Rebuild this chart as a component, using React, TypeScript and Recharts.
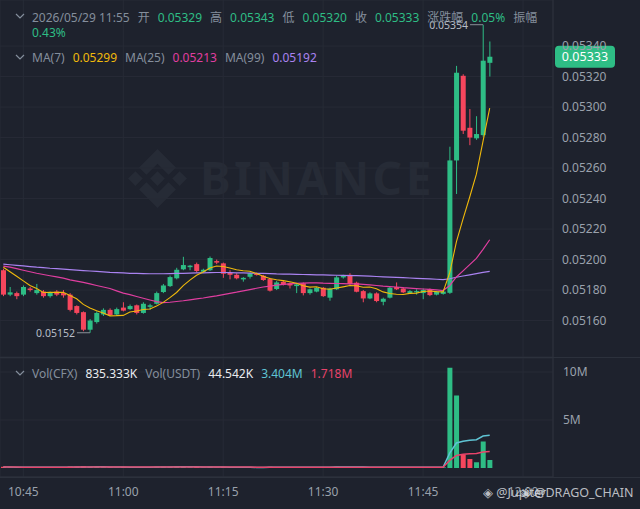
import React from 'react';
import {
  ComposedChart,
  Bar,
  Line,
  Cell,
  XAxis,
  YAxis,
  CartesianGrid,
  ReferenceDot,
  ReferenceLine,
} from 'recharts';

document.body.style.margin = '0';
document.body.style.background = '#1e222d';

const BG = '#1e222d';
const GRID = '#272b36';
const EDGE = '#2c313c';
const UP = '#2ebd85';
const DOWN = '#f6465d';
const AXIS_TEXT = '#9aa1ac';
const LABEL = '#848e9c';
const MA7_C = '#f0b90b';
const MA25_C = '#e03ea0';
const MA99_C = '#a982f0';
const VMA1_C = '#5fc4d4';
const VMA2_C = '#e8436a';
const MARK = '#262b36';
const FONT = "'Noto Sans', 'Noto Sans CJK SC', sans-serif";

// 1-minute candles, first one at 10:42, last one at 11:55
const START = '10:42';
const SLOTS = 83; // axis runs on to 12:04

// prices in units of 0.00001 USDT
const opens = [
  5193, 5177, 5178, 5177, 5181, 5178, 5179, 5176, 5179, 5178,
  5177, 5169.5, 5165.5, 5154, 5159, 5164, 5167, 5164, 5168.5, 5167.5,
  5170, 5165, 5169, 5171, 5178.7, 5182.6, 5187.7, 5193.6, 5195, 5197,
  5192, 5193, 5199, 5197.5, 5191.3, 5190, 5187, 5188.7, 5190.5, 5189.4,
  5187.2, 5180.7, 5185.4, 5184.4, 5182.6, 5184.4, 5178, 5179, 5181.5, 5175,
  5180.5, 5188.3, 5190, 5184.8, 5179.3, 5174.5, 5177.8, 5172.3, 5175, 5182,
  5181, 5178, 5178.5, 5178, 5180.5, 5177, 5177.5, 5178.2, 5265, 5320.5,
  5286.4, 5279.5, 5281.6, 5329,
];
const highs = [
  5194, 5182, 5179, 5183, 5182, 5184, 5180, 5179, 5180, 5180,
  5178, 5170, 5166, 5161, 5166, 5168, 5168, 5168.5, 5172, 5170.5,
  5170.5, 5172, 5171, 5179, 5184, 5189.5, 5194.6, 5201.8, 5196.5, 5198,
  5194, 5202, 5200, 5198, 5193, 5191, 5188.5, 5191.5, 5191.5, 5190,
  5188, 5186, 5186, 5185, 5184.5, 5185, 5181, 5182, 5182, 5181.5,
  5189.5, 5190, 5191, 5185.5, 5180, 5178.5, 5178.5, 5175, 5182, 5185,
  5182, 5180, 5180.5, 5181, 5181, 5179.5, 5179.5, 5274, 5327, 5321.5,
  5298.7, 5294, 5354, 5343,
];
const lows = [
  5176, 5176, 5174, 5176, 5179, 5177, 5175, 5175, 5176, 5175,
  5166, 5164, 5153, 5152, 5158, 5163, 5163, 5163, 5166, 5167,
  5164, 5164.5, 5167, 5170.5, 5178, 5182, 5187, 5193, 5193, 5191.5,
  5191.5, 5192.5, 5197, 5188, 5187, 5187, 5185.5, 5187.5, 5189.5, 5186,
  5179, 5180, 5183, 5181, 5178, 5176.5, 5177, 5178.5, 5175.5, 5173,
  5180, 5187.5, 5183.5, 5178.5, 5172, 5174, 5172, 5170, 5174.5, 5180,
  5178, 5177.5, 5177, 5174, 5176, 5176.5, 5177, 5177.5, 5243, 5282.3,
  5275, 5278.5, 5280.5, 5320,
];
const closes = [
  5177, 5178.5, 5176, 5182, 5180, 5180, 5176, 5178.5, 5177, 5176.5,
  5167, 5165, 5154, 5160, 5165, 5167, 5163.6, 5167.5, 5166.5, 5169.5,
  5165, 5171, 5170, 5178, 5183, 5188.5, 5193.3, 5196.4, 5196, 5192.5,
  5193.3, 5201, 5198, 5190.7, 5190, 5187.7, 5188, 5191, 5190, 5186.6,
  5179.6, 5185, 5183.5, 5183, 5183.7, 5178, 5180.5, 5181.5, 5176, 5181,
  5188.3, 5189.6, 5184, 5178.9, 5174.5, 5177.8, 5172.8, 5174.3, 5181.5, 5180.5,
  5178.5, 5179.3, 5179.3, 5180, 5176.7, 5179, 5179, 5265, 5322.5, 5284.5,
  5280, 5282.3, 5330.4, 5333,
];
const ma7 = [
  5195, 5192, 5189, 5186, 5183, 5181, 5178.4, 5178.6, 5178.5, 5178.6,
  5176.4, 5174.3, 5170.6, 5168.3, 5166.4, 5164.9, 5163.1, 5163.2, 5163.4, 5165.6,
  5166.3, 5167.2, 5167.6, 5169.6, 5171.9, 5175, 5178.4, 5182.9, 5186.5, 5189.7,
  5191.9, 5194.4, 5195.8, 5195.4, 5194.5, 5193.3, 5192.7, 5192.3, 5190.8, 5189.1,
  5187.6, 5186.8, 5186.2, 5185.5, 5184.5, 5182.8, 5181.9, 5182.2, 5180.9, 5180.5,
  5181.3, 5182.1, 5183, 5182.8, 5181.8, 5182, 5180.8, 5178.8, 5177.7, 5177.2,
  5177.1, 5177.8, 5178, 5179.1, 5179.4, 5179, 5178.8, 5191.2, 5211.6, 5226.7,
  5241, 5256, 5277.7, 5299.3,
];
const ma25 = [
  5195.7, 5195, 5194, 5193, 5192, 5191, 5190.2, 5189.4, 5188.6, 5187.8,
  5186.7, 5185.8, 5185, 5184, 5183, 5182, 5181, 5179.5, 5178, 5177,
  5175.8, 5174.6, 5173.5, 5172.4, 5171.8, 5172, 5172.5, 5173, 5173.6, 5174.2,
  5174.8, 5175.5, 5176.2, 5177, 5177.8, 5178.6, 5179.5, 5180.3, 5181.2, 5182,
  5182.6, 5183.2, 5183.7, 5184.1, 5184.4, 5184.6, 5184.7, 5184.7, 5184.5, 5184.4,
  5184.3, 5184.2, 5184.1, 5184, 5183.7, 5183.4, 5183, 5182.6, 5182.3, 5182,
  5181.6, 5181.3, 5181, 5180.7, 5180.4, 5180.1, 5179.7, 5183, 5188.6, 5192.6,
  5196.7, 5200.8, 5206.7, 5213,
];
const ma99 = [
  5197, 5196.6, 5196.2, 5195.8, 5195.4, 5195, 5194.7, 5194.3, 5194, 5193.7,
  5193.4, 5193.1, 5192.8, 5192.5, 5192.2, 5191.9, 5191.6, 5191.4, 5191.2, 5191,
  5190.9, 5190.8, 5190.7, 5190.7, 5190.7, 5190.8, 5190.9, 5191, 5191.1, 5191.2,
  5191.3, 5191.4, 5191.5, 5191.5, 5191.4, 5191.3, 5191.2, 5191.1, 5191, 5190.9,
  5190.8, 5190.6, 5190.5, 5190.4, 5190.3, 5190.2, 5190.1, 5190, 5189.9, 5189.8,
  5189.7, 5189.6, 5189.5, 5189.4, 5189.3, 5189.1, 5188.9, 5188.7, 5188.5, 5188.3,
  5188.1, 5187.9, 5187.7, 5187.5, 5187.3, 5187.1, 5186.9, 5187.4, 5188.4, 5189.2,
  5190, 5190.8, 5191.6, 5192.3,
];

// volume in millions of CFX
const volumes = [
  0.12, 0.08, 0.06, 0.09, 0.05, 0.07, 0.08, 0.06, 0.05, 0.07,
  0.15, 0.12, 0.2, 0.14, 0.11, 0.08, 0.07, 0.06, 0.09, 0.05,
  0.08, 0.1, 0.06, 0.13, 0.12, 0.14, 0.16, 0.15, 0.07, 0.1,
  0.06, 0.13, 0.05, 0.11, 0.06, 0.07, 0.05, 0.06, 0.04, 0.07,
  0.12, 0.08, 0.05, 0.06, 0.07, 0.1, 0.06, 0.07, 0.09, 0.1,
  0.12, 0.06, 0.09, 0.1, 0.08, 0.06, 0.08, 0.07, 0.09, 0.06,
  0.07, 0.05, 0.06, 0.07, 0.08, 0.06, 0.07, 10.45, 7.56, 1.4,
  0.94, 0.6, 2.75, 0.835333,
];
const volMa1 = [
  0.09, 0.09, 0.08, 0.08, 0.08, 0.07, 0.07, 0.07, 0.07, 0.07,
  0.08, 0.09, 0.1, 0.11, 0.12, 0.12, 0.11, 0.1, 0.09, 0.08,
  0.08, 0.08, 0.08, 0.09, 0.09, 0.1, 0.12, 0.13, 0.13, 0.12,
  0.11, 0.1, 0.09, 0.09, 0.08, 0.08, 0.07, 0.07, 0.06, 0.06,
  0.07, 0.07, 0.07, 0.07, 0.07, 0.08, 0.07, 0.07, 0.08, 0.08,
  0.09, 0.09, 0.09, 0.09, 0.09, 0.08, 0.08, 0.08, 0.08, 0.08,
  0.07, 0.07, 0.07, 0.07, 0.07, 0.07, 0.07, 1.55, 2.6, 2.78,
  2.88, 2.95, 3.33, 3.404,
];
const volMa2 = [
  0.09, 0.09, 0.09, 0.08, 0.08, 0.08, 0.08, 0.08, 0.08, 0.08,
  0.08, 0.09, 0.09, 0.1, 0.1, 0.1, 0.1, 0.1, 0.1, 0.1,
  0.1, 0.09, 0.09, 0.09, 0.09, 0.1, 0.1, 0.11, 0.11, 0.11,
  0.11, 0.11, 0.1, 0.1, 0.1, 0.1, 0.09, 0.09, 0.08, 0.08,
  0.08, 0.07, 0.07, 0.07, 0.07, 0.07, 0.07, 0.07, 0.08, 0.08,
  0.08, 0.08, 0.08, 0.08, 0.08, 0.08, 0.08, 0.08, 0.08, 0.08,
  0.08, 0.08, 0.07, 0.07, 0.07, 0.07, 0.07, 0.8, 1.3, 1.42,
  1.47, 1.52, 1.66, 1.718,
];
const volUsdtK = 44.542;

const timeLabels = ['10:45', '11:00', '11:15', '11:30', '11:45', '12:00'];
const priceTicks = [5160, 5180, 5200, 5220, 5240, 5260, 5280, 5300, 5320, 5340];
const volTicks = [5, 10];
const headerTime = '2026/05/29 11:55';

const toMin = (t: string) => {
  const [h, m] = t.split(':').map(Number);
  return h * 60 + m;
};
const slotOf = (t: string) => toMin(t) - toMin(START);
const labelOf = (i: number) => {
  const m = toMin(START) + i;
  return `${Math.floor(m / 60)}:${String(m % 60).padStart(2, '0')}`;
};
const timeTicks = timeLabels.map(slotOf);
const fmtPrice = (v: number) => (v / 100000).toFixed(5);

const rows = Array.from({ length: SLOTS }, (_, i) => {
  if (i >= closes.length) return { i };
  return {
    i,
    open: opens[i],
    high: highs[i],
    low: lows[i],
    close: closes[i],
    range: [lows[i], highs[i]],
    ma7: ma7[i],
    ma25: ma25[i],
    ma99: ma99[i],
    vol: volumes[i],
    volMa1: volMa1[i],
    volMa2: volMa2[i],
  };
});

const last = closes.length - 1;
const lowIdx = lows.indexOf(Math.min(...lows));
const highIdx = highs.indexOf(Math.max(...highs));
const prevClose = closes[last - 1];
const changePct = (((closes[last] - prevClose) / prevClose) * 100).toFixed(2) + '%';
const ampPct = (((highs[last] - lows[last]) / prevClose) * 100).toFixed(2) + '%';

const Candle = (props: any) => {
  const { x, y, width, height, payload } = props;
  if (!payload || payload.high == null) return null;
  const { open, close, high, low } = payload;
  const h = Math.abs(height);
  const top = Math.min(y, y + height);
  const k = h / (high - low);
  const color = close >= open ? UP : DOWN;
  const bodyTop = top + (high - Math.max(open, close)) * k;
  const bodyH = Math.max(1, Math.abs(open - close) * k);
  const cx = x + width / 2;
  return (
    <g>
      <line x1={cx} x2={cx} y1={top} y2={top + h} stroke={color} strokeWidth={1} />
      <rect x={x} y={bodyTop} width={width} height={bodyH} fill={color} />
    </g>
  );
};

const ExtremeMark = (text: string) => (props: any) => {
  const { cx, cy } = props;
  return (
    <g>
      <line x1={cx - 13} x2={cx} y1={cy} y2={cy} stroke="#8a9099" strokeWidth={1} />
      <text
        x={cx - 15}
        y={cy}
        textAnchor="end"
        dominantBaseline="central"
        fill="#b7bdc6"
        fontSize={10.5}
        fontFamily={FONT}
      >
        {text}
      </text>
    </g>
  );
};

const PriceTag = (props: any) => {
  const { viewBox } = props;
  const x = viewBox.x + viewBox.width + 2;
  const y = viewBox.y;
  return (
    <g>
      <rect x={x} y={y - 11} width={60} height={22} rx={4} fill={UP} />
      <text
        x={x + 30}
        y={y}
        textAnchor="middle"
        dominantBaseline="central"
        fill="#ffffff"
        fontSize={12.5}
        fontFamily={FONT}
      >
        {fmtPrice(closes[last])}
      </text>
    </g>
  );
};

const Chevron = () => (
  <svg width={10} height={6} style={{ marginRight: 7, marginBottom: 2 }}>
    <polyline points="1,1 5,5 9,1" fill="none" stroke={LABEL} strokeWidth={1.2} />
  </svg>
);

const item = (text: string, color: string) => (
  <span style={{ color, marginRight: 8 }}>{text}</span>
);

const Logo = () => (
  <svg width={59} height={59} viewBox="0 0 64 64">
    <g fill={MARK}>
      <polygon points="32,24 40,32 32,40 24,32" />
      <polygon points="8,24 16,32 8,40 0,32" />
      <polygon points="56,24 64,32 56,40 48,32" />
      <polygon points="32,0 52,20 44,28 32,16 20,28 12,20" />
      <polygon points="32,64 52,44 44,36 32,48 20,36 12,44" />
    </g>
  </svg>
);

const tickStyle = { fill: AXIS_TEXT, fontSize: 12, fontFamily: FONT };

export default function App() {
  return (
    <div
      style={{
        position: 'relative',
        width: 640,
        height: 509,
        background: BG,
        overflow: 'hidden',
        fontFamily: FONT,
        fontSize: 12,
      }}
    >
      {/* watermark */}
      <div style={{ position: 'absolute', left: 128, top: 149 }}>
        <Logo />
      </div>
      <div
        style={{
          position: 'absolute',
          left: 200,
          top: 154,
          fontSize: 46,
          lineHeight: '46px',
          fontWeight: 700,
          letterSpacing: 3.5,
          color: MARK,
        }}
      >
        BINANCE
      </div>

      <div style={{ position: 'absolute', left: 0, top: 0 }}>
        <ComposedChart
          width={640}
          height={357}
          data={rows}
          margin={{ top: 0, right: 0, bottom: 0, left: 0 }}
          barCategoryGap={0}
        >
          <CartesianGrid stroke={GRID} />
          <XAxis dataKey="i" hide ticks={timeTicks} interval={0} />
          <YAxis
            orientation="right"
            width={87}
            domain={[5136.1, 5370.2]}
            ticks={priceTicks}
            allowDataOverflow
            tickFormatter={fmtPrice}
            tick={tickStyle}
            tickLine={false}
            tickSize={0}
            tickMargin={9}
            axisLine={{ stroke: EDGE }}
          />
          <Bar dataKey="range" shape={Candle} barSize={5} isAnimationActive={false} />
          <Line dataKey="ma99" stroke={MA99_C} strokeWidth={1.2} dot={false} activeDot={false} isAnimationActive={false} />
          <Line dataKey="ma25" stroke={MA25_C} strokeWidth={1.2} dot={false} activeDot={false} isAnimationActive={false} />
          <Line dataKey="ma7" stroke={MA7_C} strokeWidth={1.1} dot={false} activeDot={false} isAnimationActive={false} />
          <ReferenceDot x={lowIdx} y={lows[lowIdx]} shape={ExtremeMark(fmtPrice(lows[lowIdx]))} />
          <ReferenceDot x={highIdx} y={highs[highIdx]} shape={ExtremeMark(fmtPrice(highs[highIdx]))} />
          <ReferenceLine y={closes[last]} stroke="none" label={PriceTag} />
        </ComposedChart>
      </div>

      <div style={{ position: 'absolute', left: 0, top: 357, width: 640, height: 1, background: EDGE }} />

      <div style={{ position: 'absolute', left: 0, top: 358 }}>
        <ComposedChart
          width={640}
          height={151}
          data={rows}
          margin={{ top: 0, right: 0, bottom: 0, left: 0 }}
          barCategoryGap={0}
        >
          <CartesianGrid stroke={GRID} />
          <XAxis
            dataKey="i"
            ticks={timeTicks}
            interval={0}
            height={32}
            tickFormatter={labelOf}
            tick={tickStyle}
            tickLine={false}
            tickSize={0}
            tickMargin={10}
            axisLine={{ stroke: EDGE }}
          />
          <YAxis
            orientation="right"
            width={87}
            domain={[-0.94, 11.46]}
            ticks={volTicks}
            allowDataOverflow
            tickFormatter={(v: number) => `${v}M`}
            tick={tickStyle}
            tickLine={false}
            tickSize={0}
            tickMargin={10}
            axisLine={{ stroke: EDGE }}
          />
          <Bar dataKey="vol" barSize={5} isAnimationActive={false}>
            {rows.map((r: any, i) => (
              <Cell key={i} fill={r.close >= r.open ? UP : DOWN} />
            ))}
          </Bar>
          <Line dataKey="volMa1" stroke={VMA1_C} strokeWidth={1.5} dot={false} activeDot={false} isAnimationActive={false} />
          <Line dataKey="volMa2" stroke={VMA2_C} strokeWidth={1.5} dot={false} activeDot={false} isAnimationActive={false} />
        </ComposedChart>
      </div>

      <div style={{ position: 'absolute', left: 0, top: 477, width: 640, height: 1, background: EDGE }} />

      {/* header */}
      <div style={{ position: 'absolute', left: 15, top: 8, display: 'flex', alignItems: 'center', whiteSpace: 'nowrap' }}>
        <Chevron />
        {item(headerTime, LABEL)}
        {item('开', LABEL)}
        {item(fmtPrice(opens[last]), UP)}
        {item('高', LABEL)}
        {item(fmtPrice(highs[last]), UP)}
        {item('低', LABEL)}
        {item(fmtPrice(lows[last]), UP)}
        {item('收', LABEL)}
        {item(fmtPrice(closes[last]), UP)}
        {item('涨跌幅', LABEL)}
        {item(changePct, UP)}
        {item('振幅', LABEL)}
      </div>
      <div style={{ position: 'absolute', left: 32, top: 24, color: UP }}>{ampPct}</div>

      <div style={{ position: 'absolute', left: 15, top: 49, display: 'flex', alignItems: 'center', whiteSpace: 'nowrap' }}>
        <Chevron />
        {item('MA(7)', LABEL)}
        {item(fmtPrice(ma7[last]), MA7_C)}
        {item('MA(25)', LABEL)}
        {item(fmtPrice(ma25[last]), MA25_C)}
        {item('MA(99)', LABEL)}
        {item(fmtPrice(ma99[last]), MA99_C)}
      </div>

      <div style={{ position: 'absolute', left: 15, top: 365, display: 'flex', alignItems: 'center', whiteSpace: 'nowrap' }}>
        <Chevron />
        {item('Vol(CFX)', LABEL)}
        {item(`${(volumes[last] * 1000).toFixed(3)}K`, '#eaecef')}
        {item('Vol(USDT)', LABEL)}
        {item(`${volUsdtK.toFixed(3)}K`, '#eaecef')}
        {item(`${volMa1[last].toFixed(3)}M`, VMA1_C)}
        {item(`${volMa2[last].toFixed(3)}M`, VMA2_C)}
      </div>

      {/* share watermark */}
      <div style={{ position: 'absolute', left: 483, top: 484, color: '#d5d8dd', fontSize: 12.5, opacity: 0.85 }}>
        ◈ @Jupiter
      </div>
      <div style={{ position: 'absolute', left: 521, top: 484, color: '#d5d8dd', fontSize: 12.5, opacity: 0.85 }}>
        ◈ @DRAGO_CHAIN
      </div>
    </div>
  );
}
